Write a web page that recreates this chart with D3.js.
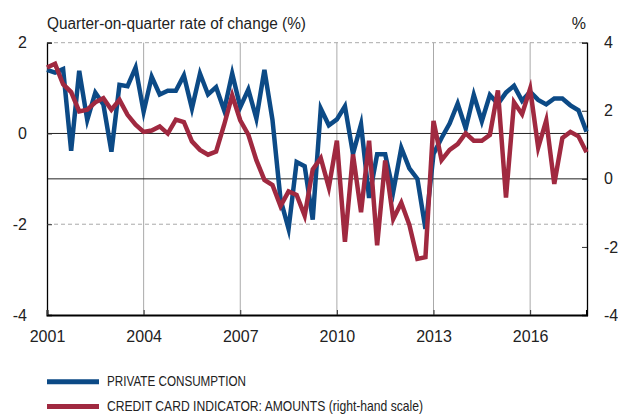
<!DOCTYPE html>
<html><head><meta charset="utf-8">
<script src="https://cdn.jsdelivr.net/npm/d3@7"></script>
<style>html,body{margin:0;padding:0;background:#fff;}svg{display:block;}</style>
</head><body>
<svg id="c" width="618" height="414"></svg>
<script>
const quarters = [
 "2001Q1","2001Q2","2001Q3","2001Q4","2002Q1","2002Q2","2002Q3","2002Q4",
 "2003Q1","2003Q2","2003Q3","2003Q4","2004Q1","2004Q2","2004Q3","2004Q4",
 "2005Q1","2005Q2","2005Q3","2005Q4","2006Q1","2006Q2","2006Q3","2006Q4",
 "2007Q1","2007Q2","2007Q3","2007Q4","2008Q1","2008Q2","2008Q3","2008Q4",
 "2009Q1","2009Q2","2009Q3","2009Q4","2010Q1","2010Q2","2010Q3","2010Q4",
 "2011Q1","2011Q2","2011Q3","2011Q4","2012Q1","2012Q2","2012Q3","2012Q4",
 "2013Q1","2013Q2","2013Q3","2013Q4","2014Q1","2014Q2","2014Q3","2014Q4",
 "2015Q1","2015Q2","2015Q3","2015Q4","2016Q1","2016Q2","2016Q3","2016Q4",
 "2017Q1","2017Q2","2017Q3","2017Q4"];
const privateConsumption = [
 1.40,1.34,1.42,-0.38,1.38,0.30,0.90,0.64,-0.40,1.07,1.04,1.45,0.48,1.25,0.86,0.94,
 0.94,1.28,0.55,1.32,0.86,1.02,0.51,1.32,0.58,0.97,0.33,1.40,0.30,-1.45,-2.10,-0.63,
 -0.72,-1.90,0.55,0.18,0.31,0.60,-0.45,0.20,-1.42,-0.46,-0.46,-1.28,-0.32,-0.77,-1.00,-2.10,
 -0.45,-0.10,0.22,0.66,0.11,0.85,0.27,0.85,0.65,0.90,1.05,0.72,0.92,0.74,0.64,0.77,
 0.77,0.62,0.51,0.04];
const creditCardAmounts = [
 3.27,3.38,2.78,2.55,1.98,2.03,2.25,2.37,2.03,2.32,1.88,1.59,1.38,1.42,1.54,1.33,
 1.74,1.67,1.10,0.85,0.71,0.80,1.59,2.45,1.72,1.30,0.55,-0.03,-0.18,-0.80,-0.37,-0.47,
 -1.08,0.28,0.61,-0.25,1.12,-1.85,0.72,-0.98,1.12,-1.95,0.54,-1.18,-0.70,-1.35,-2.35,-2.30,
 1.70,0.55,0.85,1.02,1.34,1.12,1.12,1.29,2.60,-0.55,2.25,1.90,2.65,0.92,1.72,-0.15,
 1.20,1.38,1.25,0.78];
const xTickYears = [2001,2004,2007,2010,2013,2016];
const leftTicks = [2,0,-2,-4];
const rightTicks = [4,2,0,-2,-4];
const seriesNames = ["PRIVATE CONSUMPTION","CREDIT CARD INDICATOR: AMOUNTS (right-hand scale)"];
const titleLeft = "Quarter-on-quarter rate of change (%)";
const titleRight = "%";

const BLUE = "#0c4a86", RED = "#a02940";
const FONT = "'Liberation Sans', Arial, sans-serif";
const svg = d3.select("#c");
const L = 47, R = 587, T = 42.7, B = 315;

const toT = q => +q.slice(0,4) + (+q.slice(5) - 1)/4;
const x = d3.scaleLinear().domain([2001, 2017.75]).range([L, 586.5]);
const yL = d3.scaleLinear().domain([-4, 2]).range([B, T]);
const yR = d3.scaleLinear().domain([-4, 4]).range([B, T]);
const fmt = d => String(d);

// vertical grid
svg.append("g").selectAll("line").data(xTickYears.filter(d => d > 2001)).join("line")
  .attr("x1", d => x(d)).attr("x2", d => x(d)).attr("y1", T).attr("y2", B)
  .attr("stroke", "#aaaaaa").attr("stroke-width", 1);
// dashed horizontal grid (left 2 and -2)
svg.append("g").selectAll("line").data([2, -2]).join("line")
  .attr("x1", L).attr("x2", R).attr("y1", d => yL(d)).attr("y2", d => yL(d))
  .attr("stroke", "#aaaaaa").attr("stroke-width", 1).attr("stroke-dasharray", "4,3");
// zero lines
svg.append("line").attr("x1", L).attr("x2", R).attr("y1", yL(0)).attr("y2", yL(0))
  .attr("stroke", "#222").attr("stroke-width", 1);
svg.append("line").attr("x1", L).attr("x2", R).attr("y1", yR(0)).attr("y2", yR(0))
  .attr("stroke", "#222").attr("stroke-width", 1);

// axes
const axL = d3.axisLeft(yL).tickValues(leftTicks).tickSize(-5).tickPadding(20).tickFormat(fmt);
const gL = svg.append("g").attr("transform", `translate(${L},0)`).call(axL);
const axR = d3.axisRight(yR).tickValues(rightTicks).tickSize(-5).tickPadding(17).tickFormat(fmt);
const gR = svg.append("g").attr("transform", `translate(${R},0)`).call(axR);
const axB = d3.axisBottom(x).tickValues(xTickYears).tickSize(-5).tickPadding(16).tickFormat(fmt);
const gB = svg.append("g").attr("transform", `translate(0,${B})`).call(axB);
[gL, gR, gB].forEach(g => {
  g.select(".domain").attr("stroke", "#000").attr("stroke-width", 1.3);
  g.selectAll(".tick line").attr("stroke", "#333");
  g.selectAll("text").attr("font-family", FONT).attr("font-size", 16).attr("fill", "#222");
});
gB.select(".domain").attr("stroke-width", 2);

// lines
const lineL = d3.line().x((d, i) => x(toT(quarters[i]))).y(d => yL(d));
const lineR = d3.line().x((d, i) => x(toT(quarters[i]))).y(d => yR(d));
svg.append("path").datum(privateConsumption).attr("d", lineL)
  .attr("fill", "none").attr("stroke", BLUE).attr("stroke-width", 4.5)
  .attr("stroke-linejoin", "miter").attr("stroke-miterlimit", 6);
svg.append("path").datum(creditCardAmounts).attr("d", lineR)
  .attr("fill", "none").attr("stroke", RED).attr("stroke-width", 4.5)
  .attr("stroke-linejoin", "miter").attr("stroke-miterlimit", 6);

// titles
svg.append("text").attr("x", L).attr("y", 29).text(titleLeft)
  .attr("font-family", FONT).attr("font-size", 16).attr("fill", "#222")
  .attr("textLength", 259).attr("lengthAdjust", "spacingAndGlyphs");
svg.append("text").attr("x", 586).attr("y", 29).attr("text-anchor", "end").text(titleRight)
  .attr("font-family", FONT).attr("font-size", 16).attr("fill", "#222");

// legend
const legY = [381.7, 406.5];
const legW = [139, 316];
const legC = [BLUE, RED];
seriesNames.forEach((n, i) => {
  svg.append("line").attr("x1", 47).attr("x2", 99).attr("y1", legY[i]).attr("y2", legY[i])
    .attr("stroke", legC[i]).attr("stroke-width", 5);
  svg.append("text").attr("x", 107).attr("y", legY[i] + 4.5).text(n)
    .attr("font-family", FONT).attr("font-size", 15).attr("fill", "#222")
    .attr("textLength", legW[i]).attr("lengthAdjust", "spacingAndGlyphs");
});
</script>
</body></html>
